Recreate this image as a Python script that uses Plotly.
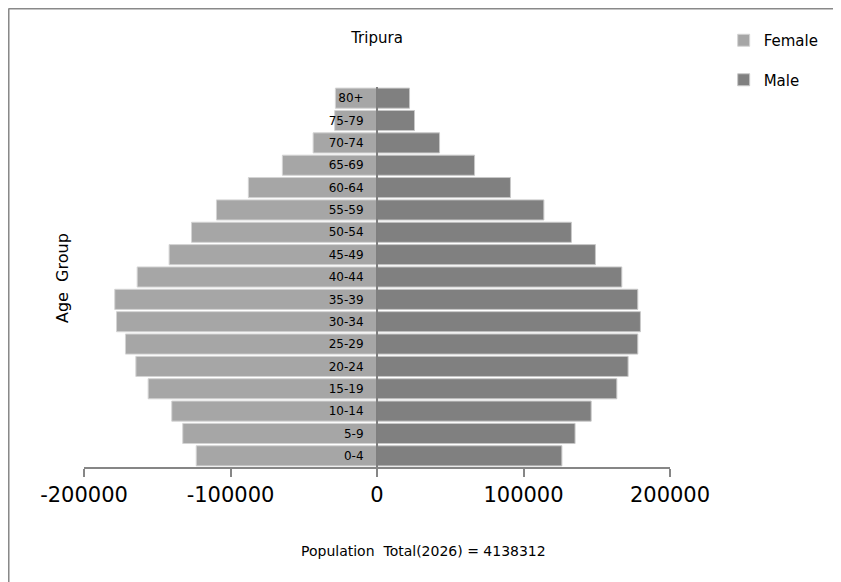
import plotly.graph_objects as go

age_groups = ["0-4", "5-9", "10-14", "15-19", "20-24", "25-29", "30-34", "35-39",
              "40-44", "45-49", "50-54", "55-59", "60-64", "65-69", "70-74", "75-79", "80+"]
female = [123400, 132600, 140100, 156200, 164600, 171700, 177800, 179000,
          163700, 141900, 126600, 109600, 87800, 64600, 43600, 28900, 28400]
male = [126200, 135200, 146200, 163700, 171400, 178000, 179800, 178000,
        167100, 149100, 132700, 113900, 91100, 66600, 42700, 25600, 22200]
x_ticks = [-200000, -100000, 0, 100000, 200000]
title_text = "Tripura"
x_title = "Population\u00a0 Total(2026) = 4138312"
y_title = "Age\u00a0 Group"

FONT = "DejaVu Sans"

fig = go.Figure()
fig.add_trace(go.Bar(
    y=age_groups, x=[-v for v in female], orientation="h", name="Female",
    legendgroup="f",
    marker=dict(color="#A6A6A6", line=dict(color="#D4D4D4", width=1)),
))
fig.add_trace(go.Bar(
    y=age_groups, x=male, orientation="h", name="Male",
    legendgroup="m",
    marker=dict(color="#808080", line=dict(color="#C8C8C8", width=1)),
))

OFF = 8  # page body margin
W, H = 841, 582
L = 84 - OFF
T = 87 - OFF
pw = 586.3
ph = 380
R = W - L - pw
B = H - T - ph

def px_x(p):
    return (p - OFF - L) / pw

def px_y(p):
    return (T + ph - (p - OFF)) / ph

fig.update_layout(
    width=W, height=H,
    margin=dict(l=L, r=R, t=T, b=B, pad=0),
    paper_bgcolor="white", plot_bgcolor="white",
    barmode="overlay", bargap=0.1,
    font=dict(family=FONT, color="#000000"),
    title=dict(text=title_text, x=0.5, xref="paper", xanchor="center",
               y=1 - (38 - OFF) / H, yref="container", yanchor="middle",
               font=dict(size=15, family=FONT, color="#000000")),
    showlegend=True,
    legend=dict(x=px_x(724), y=px_y(24), xanchor="left", yanchor="top",
                xref="paper", yref="paper",
                traceorder="grouped", tracegroupgap=17,
                font=dict(size=15, family=FONT, color="#000000"),
                bgcolor="rgba(0,0,0,0)"),
    xaxis=dict(range=[-200000, 200000], tickvals=x_ticks,
               ticktext=[str(v) for v in x_ticks],
               showgrid=False, zeroline=False,
               showline=True, linecolor="#868686", linewidth=1.5,
               ticks="outside", ticklen=8, tickcolor="#868686", tickwidth=1.5,
               tickfont=dict(size=21, family=FONT, color="#000000"),
               fixedrange=True),
    yaxis=dict(type="category", categoryorder="array", categoryarray=age_groups,
               range=[-0.5, len(age_groups) - 0.5],
               anchor="free", position=0.5,
               showgrid=False, zeroline=False,
               showline=True, linecolor="#7F7F7F", linewidth=2,
               ticks="", ticklabelstandoff=10,
               tickfont=dict(size=12, family=FONT, color="#000000"),
               fixedrange=True),
    annotations=[
        dict(text=x_title, xref="paper", yref="paper",
             x=px_x(424), y=px_y(551), xanchor="center", yanchor="middle",
             showarrow=False, font=dict(size=14, family=FONT, color="#000000")),
        dict(text=y_title, xref="paper", yref="paper", textangle=-90,
             x=px_x(62), y=px_y(278), xanchor="center", yanchor="middle",
             showarrow=False, font=dict(size=16, family=FONT, color="#000000")),
    ],
    shapes=[
        dict(type="line", xref="paper", yref="paper",
             x0=px_x(8.5), x1=px_x(900), y0=px_y(8.5), y1=px_y(8.5),
             line=dict(color="#898989", width=2)),
        dict(type="line", xref="paper", yref="paper",
             x0=px_x(8.5), x1=px_x(8.5), y0=px_y(8.5), y1=px_y(700),
             line=dict(color="#898989", width=2)),
    ],
)

fig.write_html("out.html")
